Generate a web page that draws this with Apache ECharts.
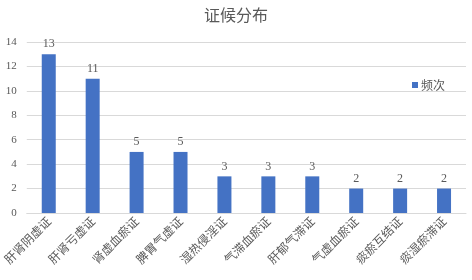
<!DOCTYPE html>
<html>
<head>
<meta charset="utf-8">
<script src="https://cdn.jsdelivr.net/npm/echarts@6/dist/echarts.min.js"></script>
<style>
  html, body { margin: 0; padding: 0; background: #fff; }
  #main { width: 472px; height: 280px; }
</style>
</head>
<body>
<div id="main"></div>
<script>
// 证候分布
const categories = ['肝肾阴虚证', '肝肾亏虚证', '肾虚血瘀证', '脾胃气虚证', '湿热侵淫证', '气滞血瘀证', '肝郁气滞证', '气虚血瘀证', '痰瘀互结证', '痰湿瘀滞证']
const freq = [13, 11, 5, 5, 3, 3, 3, 2, 2, 2]
const yTicks = [0, 2, 4, 6, 8, 10, 12, 14]

var myChart = echarts.init(document.getElementById('main'))
let txt = '#595959'
let option = {
  animation: false,
  title: {
    text: '证候分布',
    left: 'center',
    top: 2,
    textStyle: {
      color: txt,
      fontSize: 16,
      fontWeight: 'normal',
      fontFamily: '"Noto Sans CJK SC"'
    }
  },
  legend: {
    data: ['频次'],
    right: 22,
    top: 74,
    icon: 'rect',
    itemWidth: 6,
    itemHeight: 6,
    itemGap: 2,
    textStyle: { color: txt, fontSize: 12, fontFamily: '"Noto Sans CJK SC"', padding: [0, 0, 0, -2] }
  },
  grid: {
    top: 42,
    left: 26,
    right: 6,
    bottom: 67,
    containLabel: false
  },
  xAxis: {
    type: 'category',
    data: categories,
    axisLine: { lineStyle: { color: '#d9d9d9', width: 1 } },
    axisTick: { show: false },
    axisLabel: {
      rotate: 45,
      interval: 0,
      color: txt,
      fontSize: 12,
      margin: 6,
      fontFamily: '"Noto Sans CJK SC"'
    }
  },
  yAxis: {
    type: 'value',
    min: yTicks[0],
    max: yTicks[yTicks.length - 1],
    interval: 2,
    axisLine: { show: false },
    axisTick: { show: false },
    splitLine: { lineStyle: { color: '#d9d9d9', width: 1 } },
    axisLabel: {
      color: txt,
      fontSize: 11,
      margin: 10,
      fontFamily: '"Liberation Serif"'
    }
  },
  series: [
    {
      name: '频次',
      type: 'bar',
      data: freq,
      barWidth: 14,
      itemStyle: { color: '#4472C4' },
      label: {
        show: true,
        position: 'top',
        distance: 4,
        color: txt,
        fontSize: 12,
        fontFamily: '"Liberation Serif"'
      }
    }
  ]
}
myChart.setOption(option)
</script>
</body>
</html>
